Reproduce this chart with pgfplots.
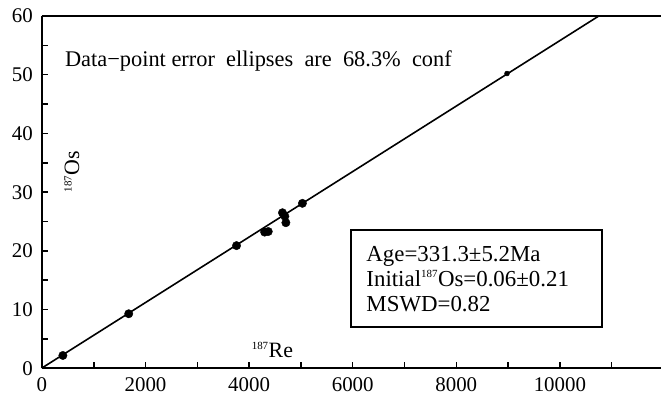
\documentclass[border=0pt]{standalone}
\usepackage{fontspec}
\setmainfont{Liberation Serif}
\usepackage{pgfplots}
\pgfplotsset{compat=1.18}
\begin{document}
\begin{tikzpicture}
\begin{axis}[
  scale only axis,
  width=620bp, height=353bp,
  xmin=0, xmax=11950, ymin=0, ymax=60,
  axis x line=box, axis y line=left,
  axis line style={-, line width=2.2bp},
  xtick pos=lower, ytick pos=left,
  scaled ticks=false,
  xtick={0,2000,4000,6000,8000,10000},
  minor xtick={1000,3000,5000,7000,9000,11000},
  ytick={0,10,20,30,40,50,60},
  minor ytick={5,15,25,35,45,55},
  tick align=inside,
  major tick length=6bp, minor tick length=6bp,
  every tick/.style={black, line width=1.6bp},
  every minor tick/.style={black, line width=1.6bp},
  /pgf/number format/assume math mode=true,
  /pgf/number format/1000 sep={},
  xticklabels={0,2000,4000,6000,8000,10000},
  tick label style={font=\fontsize{21}{21}\selectfont, inner sep=0pt},
  xticklabel shift=9bp, yticklabel shift=9bp,
  clip=false,
]
\addplot[black, line width=1.6bp, no marks] coordinates {(0,0.06) (10752,60)};
\addplot[only marks, mark=*, mark size=4.2bp, black] coordinates {
(405,2.2) (1676,9.3) (3757,20.9) (4300,23.2) (4370,23.3)
(4644,26.5) (4690,25.9) (4710,24.8) (5029,28.1)
};
\addplot[only marks, mark=*, mark size=2.5bp, black] coordinates {(8979,50.2)};
\node[anchor=base west, font=\fontsize{22.5}{24}\selectfont, inner sep=0pt] at (axis cs:443,51.4) {Data−point error\ \ ellipses\ \ are\ \ 68.3\%\ \ conf};
\node[anchor=base west, font=\fontsize{22}{22}\selectfont, inner sep=0pt] at (axis cs:4048,1.87) {\textsuperscript{\fontsize{11}{11}\selectfont 187}Re};
\node[rotate=90, anchor=center, font=\fontsize{22}{22}\selectfont, inner sep=0pt] at (axis cs:578,33.5) {\textsuperscript{\fontsize{11}{11}\selectfont 187}Os};
\draw[line width=2bp] (axis cs:5973,6.97) rectangle (axis cs:10809,23.6);
\node[anchor=base west, font=\fontsize{23}{25}\selectfont, inner sep=0pt] at (axis cs:6262,18.2) {Age=331.3±5.2Ma};
\node[anchor=base west, font=\fontsize{23}{25}\selectfont, inner sep=0pt] at (axis cs:6262,13.95) {Initial\textsuperscript{\fontsize{11}{11}\selectfont 187}Os=0.06±0.21};
\node[anchor=base west, font=\fontsize{23}{25}\selectfont, inner sep=0pt] at (axis cs:6262,9.69) {MSWD=0.82};
\path (axis description cs:-0.0677,-0.085) rectangle (axis description cs:1,1.0453);
\end{axis}
\end{tikzpicture}
\end{document}
